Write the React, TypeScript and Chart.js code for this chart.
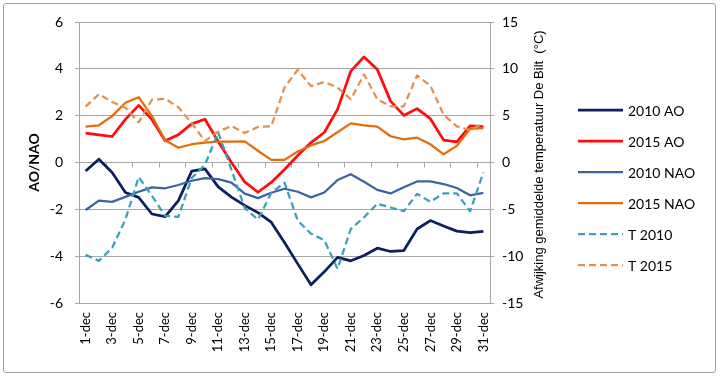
import React, { useEffect, useRef } from 'react';
import { Chart, registerables } from 'chart.js';

Chart.register(...registerables);

const days = [
  '1-dec', '2-dec', '3-dec', '4-dec', '5-dec', '6-dec', '7-dec', '8-dec', '9-dec', '10-dec',
  '11-dec', '12-dec', '13-dec', '14-dec', '15-dec', '16-dec', '17-dec', '18-dec', '19-dec', '20-dec',
  '21-dec', '22-dec', '23-dec', '24-dec', '25-dec', '26-dec', '27-dec', '28-dec', '29-dec', '30-dec', '31-dec',
];

const ao2010 = [-0.36, 0.14, -0.43, -1.28, -1.49, -2.2, -2.31, -1.63, -0.37, -0.27, -1.04, -1.48, -1.83, -2.14, -2.55, -3.42, -4.33, -5.22, -4.67, -4.05, -4.2, -3.97, -3.66, -3.8, -3.76, -2.84, -2.48, -2.71, -2.93, -2.99, -2.94];
const ao2015 = [1.25, 1.18, 1.11, 1.84, 2.44, 1.84, 0.93, 1.19, 1.65, 1.85, 0.9, 0.0, -0.83, -1.27, -0.85, -0.3, 0.3, 0.85, 1.28, 2.27, 3.9, 4.51, 3.97, 2.62, 2.01, 2.3, 1.87, 0.96, 0.88, 1.56, 1.53];
const nao2010 = [-2.03, -1.63, -1.68, -1.47, -1.25, -1.06, -1.1, -0.96, -0.78, -0.67, -0.71, -0.86, -1.33, -1.52, -1.29, -1.12, -1.25, -1.49, -1.28, -0.75, -0.5, -0.82, -1.17, -1.32, -1.06, -0.81, -0.81, -0.92, -1.09, -1.4, -1.3];
const nao2015 = [1.53, 1.59, 1.98, 2.55, 2.79, 1.98, 0.95, 0.63, 0.78, 0.85, 0.89, 0.89, 0.9, 0.5, 0.11, 0.11, 0.47, 0.73, 0.92, 1.29, 1.67, 1.59, 1.53, 1.12, 0.99, 1.06, 0.78, 0.35, 0.71, 1.44, 1.47];
const t2010 = [-9.86, -10.5, -9.1, -6.1, -1.55, -3.55, -5.7, -5.8, -1.66, -0.25, 3.2, -0.78, -4.85, -6.1, -3.25, -2.15, -6.2, -7.6, -8.3, -11.35, -7.1, -5.85, -4.4, -4.8, -5.2, -3.35, -4.2, -3.3, -3.3, -5.2, -1.06];
const t2015 = [5.96, 7.3, 6.45, 5.85, 4.3, 6.7, 6.8, 5.9, 4.2, 2.3, 3.3, 3.9, 3.15, 3.8, 3.85, 8.0, 9.9, 8.15, 8.6, 8.0, 6.75, 9.4, 6.75, 6.0, 6.0, 9.3, 8.2, 5.1, 3.85, 3.45, 4.2];

const leftTitle = 'AO/NAO';
const rightTitle = 'Afwijking gemiddelde temperatuur De Bilt  (°C)';

const FONT = 'Lato, "Open Sans", sans-serif';
const GRID = '#a6a6a6';

const zeroTicks = {
  id: 'zeroTicks',
  beforeDatasetsDraw(chart: any) {
    const xs = chart.scales.x;
    const ys = chart.scales.y;
    const y0 = ys.getPixelForValue(0);
    const ctx = chart.ctx;
    ctx.save();
    ctx.strokeStyle = GRID;
    ctx.lineWidth = 1;
    for (let k = 2; k < days.length; k += 2) {
      const px = Math.round((xs.getPixelForValue(k - 1) + xs.getPixelForValue(k)) / 2) + 0.5;
      ctx.beginPath();
      ctx.moveTo(px, y0);
      ctx.lineTo(px, y0 + 5);
      ctx.stroke();
    }
    ctx.restore();
  },
};

const extras = {
  id: 'extras',
  afterDraw(chart: any) {
    const ctx = chart.ctx;
    const area = chart.chartArea;
    ctx.save();
    // right axis title
    ctx.translate(area.right + 49, (area.top + area.bottom) / 2 + 2);
    ctx.rotate(-Math.PI / 2);
    ctx.fillStyle = '#000';
    ctx.font = '13px "Liberation Sans Narrow", "Arial Narrow", sans-serif';
    ctx.textAlign = 'center';
    ctx.textBaseline = 'middle';
    ctx.fillText(rightTitle, 0, 0);
    ctx.restore();

    // legend
    const x0 = area.right + 88;
    chart.data.datasets.forEach((ds: any, i: number) => {
      const y = 110 + i * 31;
      ctx.save();
      ctx.strokeStyle = ds.borderColor;
      ctx.lineWidth = ds.borderWidth;
      ctx.setLineDash(ds.borderDash || []);
      ctx.beginPath();
      ctx.moveTo(x0, y);
      ctx.lineTo(x0 + 45, y);
      ctx.stroke();
      ctx.setLineDash([]);
      ctx.fillStyle = '#000';
      ctx.font = '14px ' + FONT;
      ctx.textBaseline = 'middle';
      ctx.textAlign = 'left';
      ctx.fillText(ds.label, x0 + 50, y + 1);
      ctx.restore();
    });
  },
};

export default function App() {
  const ref = useRef<HTMLCanvasElement | null>(null);

  useEffect(() => {
    if (!ref.current) return;
    const mk = (label: string, data: number[], color: string, width: number, axis: string, dash: number[] | undefined, order: number) => ({
      label,
      data,
      borderColor: color,
      backgroundColor: color,
      borderWidth: width,
      borderDash: dash,
      yAxisID: axis,
      pointRadius: 0,
      pointHoverRadius: 0,
      tension: 0,
      fill: false,
      borderJoinStyle: 'round',
      order,
    });
    const chart = new Chart(ref.current, {
      type: 'line',
      data: {
        labels: days,
        datasets: [
          mk('2010 AO', ao2010, '#0c1f5e', 2.75, 'y', undefined, 6),
          mk('2015 AO', ao2015, '#ff0d0d', 2.75, 'y', undefined, 5),
          mk('2010 NAO', nao2010, '#3b64a0', 2.25, 'y', undefined, 4),
          mk('2015 NAO', nao2015, '#e46c0a', 2.25, 'y', undefined, 3),
          mk('T 2010', t2010, '#3a9fb9', 2.25, 'y1', [7, 4], 2),
          mk('T 2015', t2015, '#e3914f', 2.25, 'y1', [7, 4], 1),
        ] as any,
      },
      options: {
        responsive: false,
        animation: false,
        events: [],
        layout: { padding: { top: 22, left: 0, right: 0, bottom: 0 } },
        plugins: {
          legend: { display: false },
          tooltip: { enabled: false },
        },
        scales: {
          x: {
            type: 'category',
            offset: true,
            grid: { display: false, drawTicks: false },
            border: { display: false },
            ticks: {
              autoSkip: false,
              minRotation: 90,
              maxRotation: 90,
              padding: 9,
              color: '#000',
              font: { family: FONT, size: 13 },
              callback: (_v: any, i: number) => (i % 2 === 0 ? days[i] : ''),
            },
            afterFit: (s: any) => { s.height = 74; },
          },
          y: {
            position: 'left',
            min: -6,
            max: 6,
            grid: { color: GRID, lineWidth: 1, tickLength: 4 },
            border: { color: GRID, width: 1 },
            ticks: { stepSize: 2, padding: 12, color: '#000', font: { family: FONT, size: 14 } },
            title: {
              display: true,
              text: leftTitle,
              color: '#000',
              font: { family: FONT, size: 14, weight: 'bold' },
              padding: { top: 26, bottom: 0 },
            },
            afterFit: (s: any) => { s.width = 79; },
          },
          y1: {
            position: 'right',
            min: -15,
            max: 15,
            grid: { drawOnChartArea: false, color: GRID, tickLength: 4 },
            border: { color: GRID, width: 1 },
            ticks: { stepSize: 5, padding: 8, color: '#000', font: { family: FONT, size: 14 } },
            afterFit: (s: any) => { s.width = 230; },
          },
        },
      } as any,
      plugins: [zeroTicks, extras],
    });
    return () => chart.destroy();
  }, []);

  return (
    <div style={{ position: 'fixed', left: 0, top: 0, width: 720, height: 377, background: '#fff' }}>
      <canvas ref={ref} width={720} height={377} style={{ position: 'absolute', left: 0, top: 0 }} />
      <div
        style={{
          position: 'absolute',
          left: 3,
          top: 3,
          width: 711,
          height: 368,
          border: '1.5px solid #a0a0a0',
          borderRadius: 3,
          pointerEvents: 'none',
        }}
      />
    </div>
  );
}
